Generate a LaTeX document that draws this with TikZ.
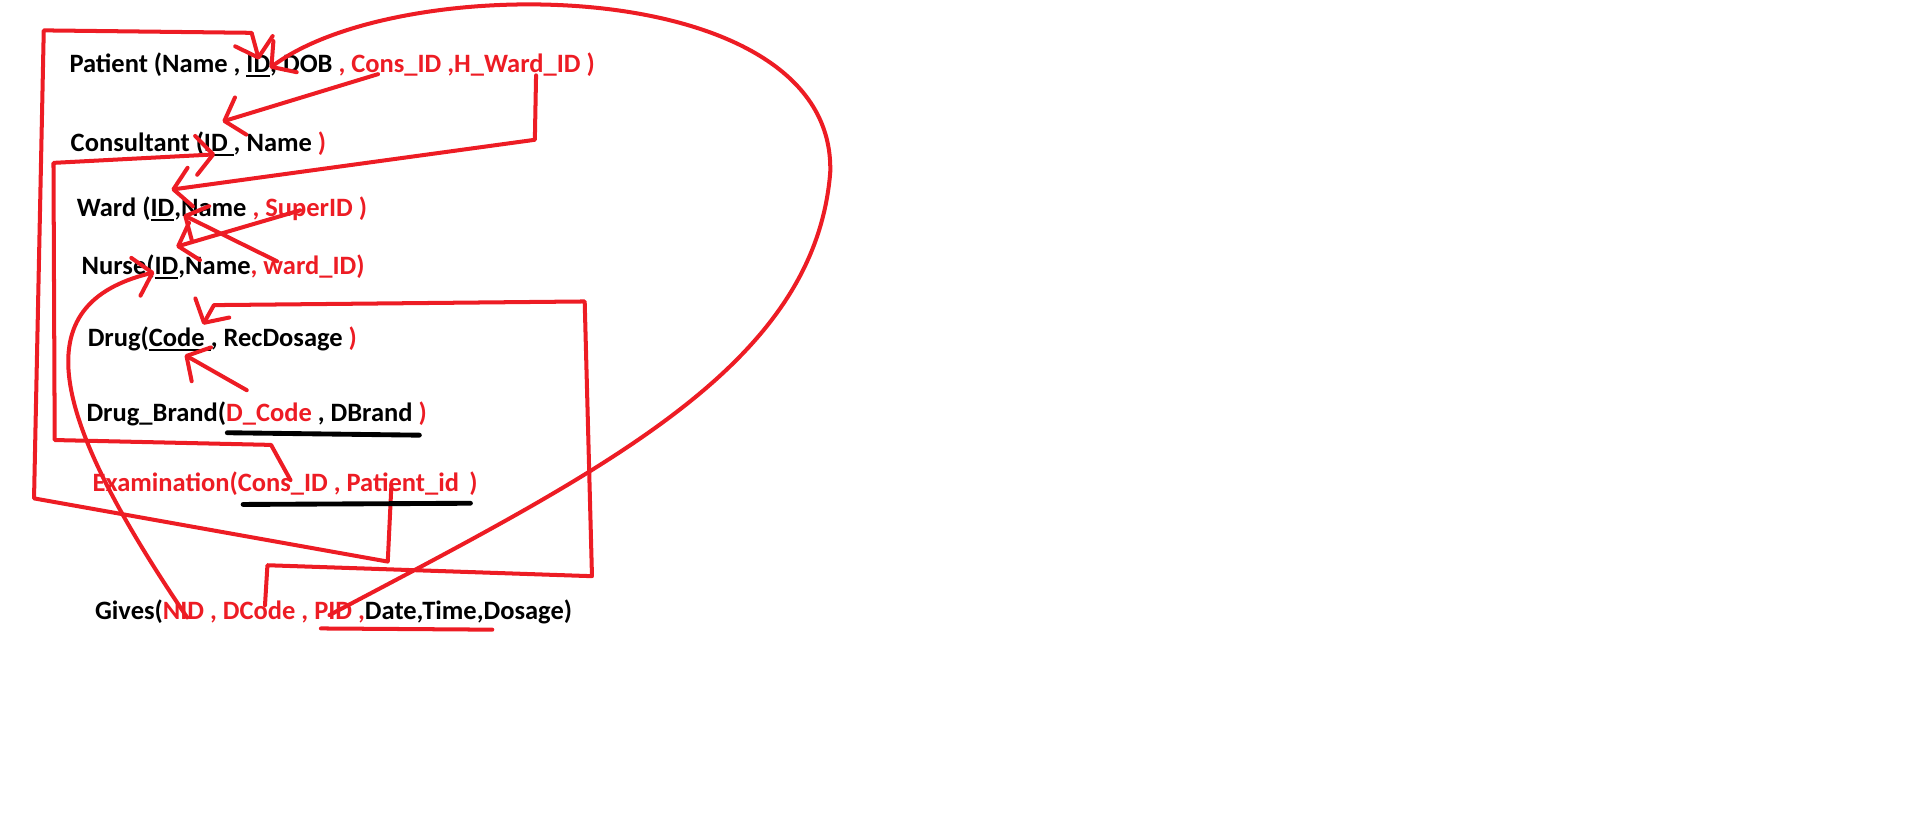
\documentclass[tikz,border=0pt]{standalone}
\usepackage{fontspec}
\setmainfont{Carlito}
\usetikzlibrary{arrows.meta}
\definecolor{pred}{HTML}{ED1C24}
% underlined key field
\newcommand\keyu[1]{\setbox0=\hbox{#1}\rlap{\vrule width\wd0 height -2pt depth 3.6pt}\box0}

\begin{document}
\begin{tikzpicture}[x=1pt, y=-1pt,
      rel/.style = {anchor=base west, inner sep=0pt, font=\bfseries\fontsize{21.8}{26}\selectfont},
      ink/.style = {draw=pred, line width=3.3pt, line cap=round, line join=round},
      arr/.style = {-{Straight Barb[length=14pt, width=32pt, round]}},
      bar/.style = {draw=black, line width=4pt, line cap=round}
                    ]
\useasboundingbox (0,0) rectangle (1568,674);
\node (pat)   [rel] at (57,60)  {Patient (Name , \keyu{ID}, DOB \textcolor{pred}{, Cons\_ID ,H\_Ward\_ID )}};
\node (cons)  [rel] at (58,125) {Consultant (\keyu{ID }, Name \textcolor{pred}{)}};
\node (ward)  [rel] at (63,178) {Ward (\keyu{ID},Name \textcolor{pred}{, SuperID )}};
\node (nurse) [rel] at (67,226) {Nurse(\keyu{ID},Name\textcolor{pred}{, ward\_ID)}};
\node (drug)  [rel] at (72,285) {Drug(\keyu{Code }, RecDosage \textcolor{pred}{)}};
\node (brand) [rel] at (71,347) {Drug\_Brand(\textcolor{pred}{D\_Code} , DBrand \textcolor{pred}{)}};
\node (exam)  [rel, text=pred] at (76,404) {Examination(Cons\_ID , Patient\_id \,)};
\node (gives) [rel] at (78,510) {Gives(\textcolor{pred}{NID , DCode , PID ,}Date,Time,Dosage)};
% Examination.Patient_id -> Patient.ID
\coordinate (exam-pid) at (322,399);
\coordinate (pat-id-top) at (213,49);
\draw[ink, arr] (exam-pid) -- (319,462) -- (28,410) -- (36,25) -- (207,27) -- (pat-id-top);
% Examination.Cons_ID -> Consultant.ID
\coordinate (exam-cid) at (239,395);
\coordinate (cons-id-left) at (177,127);
\draw[ink, arr] (exam-cid) -- (223,366) -- (45,362) -- (44,134) -- (cons-id-left);
% Patient.Cons_ID -> Consultant.ID
\coordinate (pat-cid) at (311,61);
\coordinate (cons-id-top) at (183,100);
\draw[ink, arr] (pat-cid) -- (cons-id-top);
% Patient.H_Ward_ID -> Ward.ID
\coordinate (pat-wid) at (441,62);
\coordinate (ward-id-top) at (141,156);
\draw[ink, arr] (pat-wid) -- (440,115) -- (ward-id-top);
% Nurse.ward_ID -> Ward.ID
\coordinate (nurse-wid) at (228,215);
\coordinate (ward-id) at (151,177);
\draw[ink, arr] (nurse-wid) -- (ward-id);
% Ward.SuperID -> Nurse.ID
\coordinate (ward-sid) at (247,173);
\coordinate (nurse-id-top) at (145,203);
\draw[ink, arr] (ward-sid) -- (nurse-id-top);
% Gives.NID -> Nurse.ID
\coordinate (gives-nid) at (154,508);
\coordinate (nurse-id) at (127,224);
\draw[ink, arr] (gives-nid) .. controls (40,340) and (20,250) .. (nurse-id);
% Drug_Brand.D_Code -> Drug.Code
\coordinate (brand-dc) at (203,321);
\coordinate (drug-code) at (152,292);
\draw[ink, arr] (brand-dc) -- (drug-code);
% Gives.DCode -> Drug.Code
\coordinate (gives-dc) at (218,498);
\coordinate (drug-code-top) at (167,267);
\draw[ink, arr] (gives-dc) -- (220,465) -- (487,474) -- (481,248) -- (176,251) -- (drug-code-top);
% Gives.PID -> Patient.ID
\coordinate (gives-pid) at (271,506);
\coordinate (pat-id) at (222,56);
\draw[ink, arr] (gives-pid) .. controls (500,385) and (670,300) .. (683,142)
   .. controls (688,-22) and (330,-25) .. (pat-id);
% composite keys
\draw[bar] (187,356) -- (345,358);
\draw[bar] (200,415) -- (387,414);
\draw[ink] (264,517) -- (405,518);
\end{tikzpicture}
\end{document}
